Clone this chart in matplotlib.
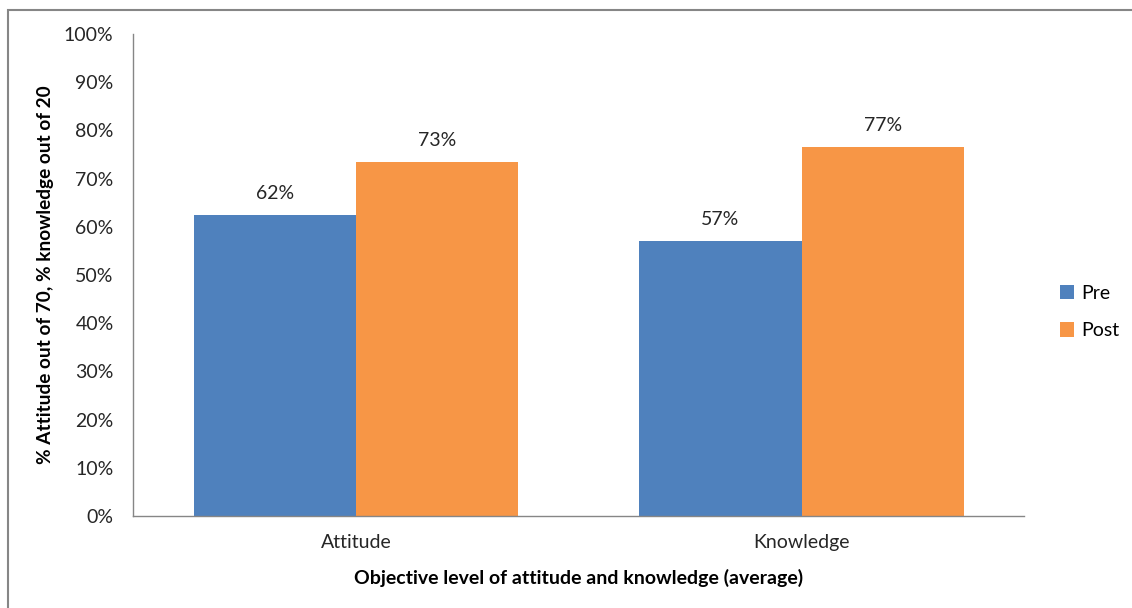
import matplotlib
matplotlib.use('Agg')
import matplotlib.pyplot as plt
from matplotlib.patches import Rectangle
import numpy as np

# data
categories = ['Attitude', 'Knowledge']
pre = [0.624, 0.570]
post = [0.734, 0.766]
yticks = [0, 0.1, 0.2, 0.3, 0.4, 0.5, 0.6, 0.7, 0.8, 0.9, 1.0]

plt.rcParams['font.family'] = ['Lato', 'DejaVu Sans']

blue = '#4f81bd'
orange = '#f79646'

fig = plt.figure(figsize=(11.32, 6.08), dpi=100)
ax = fig.add_axes([0.1175, 0.1513, 0.7875, 0.7927])

x = np.arange(len(categories))
w = 0.364
b1 = ax.bar(x - w / 2, pre, w, color=blue, label='Pre')
b2 = ax.bar(x + w / 2, post, w, color=orange, label='Post')

for bars in (b1, b2):
    for r in bars:
        h = r.get_height()
        ax.text(r.get_x() + r.get_width() / 2, h + 0.027, '{:.0f}%'.format(h * 100),
                ha='center', va='bottom', fontsize=14, color='#262626')

ax.set_xlim(-0.5, 1.5)
ax.set_ylim(0, 1.0)
ax.set_yticks(yticks)
ax.set_yticklabels(['{:.0f}%'.format(t * 100) for t in yticks])
ax.set_xticks(x)
ax.set_xticklabels(categories)
ax.tick_params(length=0, labelsize=14, colors='#262626')
ax.tick_params(axis='y', pad=14)
ax.tick_params(axis='x', pad=13)

for s in ['top', 'right']:
    ax.spines[s].set_visible(False)
for s in ['left', 'bottom']:
    ax.spines[s].set_color('#868686')
    ax.spines[s].set_linewidth(1)

ax.set_ylabel('% Attitude out of 70, % knowledge out of 20', fontsize=13.7,
              fontweight='bold', labelpad=7)
ax.set_xlabel('Objective level of attitude and knowledge (average)', fontsize=14,
              fontweight='bold', labelpad=13)

ax.legend(loc='center left', bbox_to_anchor=(1.02, 0.423), frameon=False,
          fontsize=14, handlelength=0.75, handleheight=0.75, handletextpad=0.35,
          labelspacing=1.05)

# outer chart frame
fig.patches.append(Rectangle((8 / 1132, -0.1), 1.2, (608 - 10) / 608 + 0.1,
                             transform=fig.transFigure, fill=False,
                             edgecolor='#868686', linewidth=1.5))

plt.savefig('out.png', dpi=100)
